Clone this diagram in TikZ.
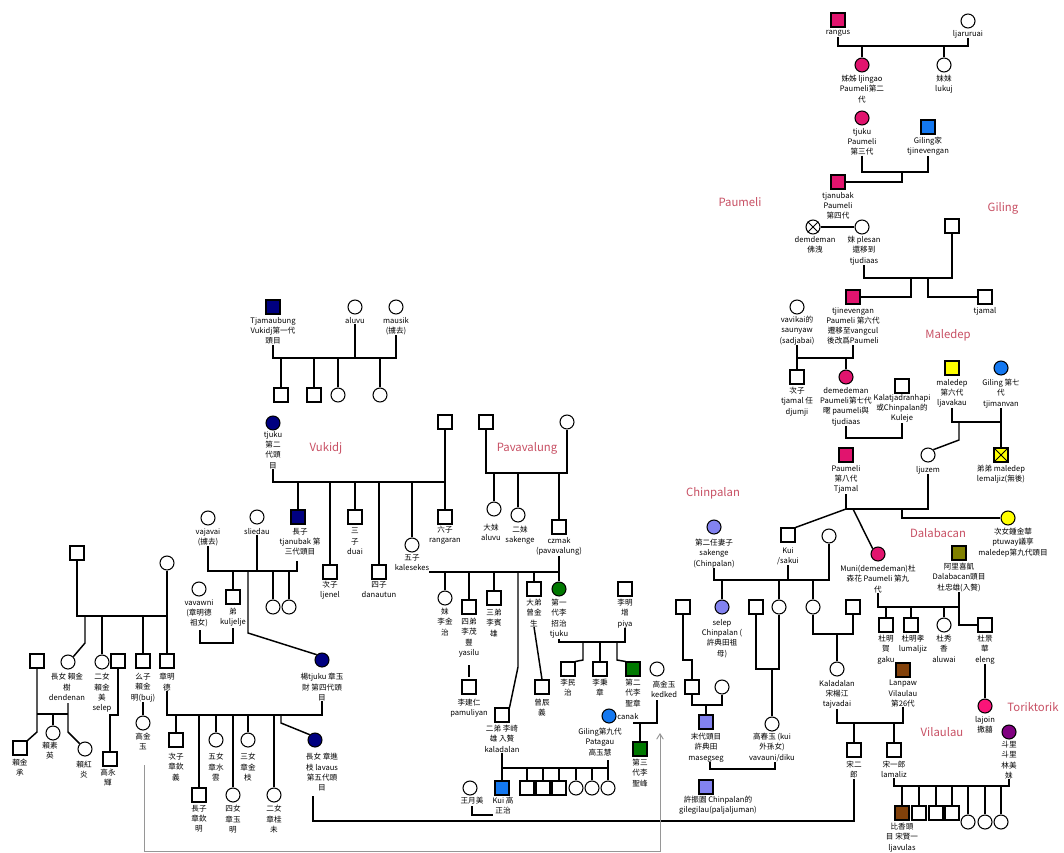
\documentclass[tikz,border=0pt]{standalone}
\usepackage{fontspec}
\setmainfont{Noto Sans CJK TC}
\usetikzlibrary{arrows.meta}
\definecolor{pk}{RGB}{225,20,110}
\definecolor{pk2}{RGB}{250,20,120}
\definecolor{nv}{RGB}{0,0,128}
\definecolor{bl}{RGB}{20,120,240}
\definecolor{lp}{RGB}{130,130,240}
\definecolor{gr}{RGB}{0,120,0}
\definecolor{yl}{RGB}{255,255,0}
\definecolor{ol}{RGB}{128,128,0}
\definecolor{br}{RGB}{130,65,10}
\definecolor{pu}{RGB}{128,0,128}
\definecolor{famred}{RGB}{200,80,100}
\definecolor{arrgray}{RGB}{150,150,150}
\begin{document}
\begin{tikzpicture}[x=0.75pt,y=-0.75pt,
  sym/.style={draw=black,line width=0.8pt,minimum size=10.5pt,inner sep=0pt,fill=white},
  sq/.style={sym,rectangle},
  ci/.style={sym,circle},
  lbl/.style={font=\fontsize{5.7}{7.7}\selectfont,align=center,inner sep=0pt,anchor=north},
  fam/.style={font=\fontsize{8.5}{10}\selectfont,text=famred,inner sep=0pt},
  ln/.style={line width=1.1pt,black},
  garr/.style={line width=0.7pt,arrgray,-{Straight Barb[length=4pt,width=5pt]}}]
\fill[white] (0,0) rectangle (1064,853);
\useasboundingbox (0,0) rectangle (1064,853);
% family labels
\node[fam] (fPaumeli) at (740,202) {Paumeli};
\node[fam] (fGiling) at (1003,208) {Giling};
\node[fam] (fMaledep) at (948,335) {Maledep};
\node[fam] (fChinpalan) at (713,493) {Chinpalan};
\node[fam] (fDalabacan) at (938,533) {Dalabacan};
\node[fam] (fToriktorik) at (1033,707) {Toriktorik};
\node[fam] (fVilaulau) at (942,732) {Vilaulau};
\node[fam] (fVukidj) at (326,448) {Vukidj};
\node[fam] (fPavavalung) at (527,448) {Pavavalung};
% ---------- Paumeli / right side symbols
\node[sq,fill=pk] (rangus) at (838,20) {};
\node[ci] (ljaruruai) at (968,21) {};
\node[ci,fill=pk] (tjingao) at (862,65) {};
\node[ci] (lukuj) at (944,65) {};
\node[ci,fill=pk] (tjuku3) at (862,118) {};
\node[sq,fill=bl] (giling1) at (928,127) {};
\node[sq,fill=pk] (tjanubak4) at (838,182) {};
\node[ci] (demdeman) at (813,227) {};
\draw[line width=0.6pt] (demdeman.north west) -- (demdeman.south east) (demdeman.north east) -- (demdeman.south west);
\node[ci] (plesan) at (862,227) {};
\node[sq] (giling2) at (952,226) {};
\node[sq,fill=pk] (tjinevengan6) at (853,297) {};
\node[sq] (tjamal) at (985,297) {};
\node[ci] (vavikai) at (797,307) {};
\node[sq] (tjamal2) at (797,377) {};
\node[ci,fill=pk] (demedeman7) at (846,377) {};
\node[sq] (kalatja) at (902,386) {};
\node[sq,fill=yl] (maledep6) at (952,368) {};
\node[ci,fill=bl] (giling7) at (1001,368) {};
\node[sq,fill=pk] (paumeli8) at (846,455) {};
\node[ci] (ljuzem) at (928,455) {};
\node[sq,fill=yl] (lemaljiz) at (1001,455) {};
\draw[line width=0.6pt] (lemaljiz.north west) -- (lemaljiz.south east) (lemaljiz.north east) -- (lemaljiz.south west);
\node[ci,fill=yl] (ptuway) at (1008,518) {};
\node[sq] (kui) at (788,535) {};
\node[ci] (kuiwife) at (829,536) {};
\node[ci,fill=pk] (muni) at (878,554) {};
\node[sq,fill=ol] (alixi) at (959,553) {};
\node[ci,fill=lp] (sakenge) at (714,527) {};
\node[ci,fill=lp] (selep2) at (722,607) {};
\node[sq] (sq682) at (683,607) {};
\node[sq] (sq756) at (756,607) {};
\node[ci] (ci779) at (779,607) {};
\node[ci] (ci813) at (813,607) {};
\node[sq] (sq853) at (853,607) {};
\node[sq] (gaku) at (886,625) {};
\node[sq] (lumaljiz) at (911,625) {};
\node[ci] (aluwai) at (944,625) {};
\node[sq] (eleng) at (985,625) {};
\node[sq,fill=br] (lanpaw) at (903,670) {};
\node[ci] (kaladalan2) at (837,669) {};
\node[ci,fill=pk2] (lajoin) at (985,706) {};
\node[ci,fill=pu] (doli) at (1009,732) {};
\node[sq] (songer) at (854,750) {};
\node[sq] (songyi) at (894,750) {};
\node[sq,fill=br] (bixiang) at (902,813) {};
\node[sq] (v919) at (919,813) {};
\node[sq] (v936) at (936,813) {};
\node[sq] (v952) at (952,813) {};
\node[ci] (v968) at (968,822) {};
\node[ci] (v985) at (985,822) {};
\node[ci] (v1001) at (1001,822) {};
\node[sq] (sq692) at (692,687) {};
\node[ci] (ci722) at (722,687) {};
\node[sq,fill=lp] (masegseg) at (706,722) {};
\node[ci] (vavauni) at (772,724) {};
\node[sq,fill=lp] (gilegilau) at (706,787) {};
% ---------- labels right
\node[lbl] (rangusL) at (838,30) {rangus};
\node[lbl] (ljaruruaiL) at (968,30) {ljaruruai};
\node[lbl] (tjingaoL) at (862,75) {姊姊 ljingao\\Paumeli第二\\代};
\node[lbl] (lukujL) at (944,75) {妹妹\\lukuj};
\node[lbl] (tjuku3L) at (862,128) {tjuku\\Paumeli\\第三代};
\node[lbl] (giling1L) at (928,137) {Giling家\\tjinevengan};
\node[lbl] (tjanubak4L) at (838,192) {tjanubak\\Paumeli\\第四代};
\node[lbl] (demdemanL) at (815,236) {demdeman\\佛洩};
\node[lbl] (plesanL) at (864,236) {妹 plesan\\還移到\\tjudiaas};
\node[lbl] (tjinevenganL) at (853,307) {tjinevengan\\Paumeli 第六代\\遷移至vangcul\\後改爲Paumeli};
\node[lbl] (tjamalL) at (985,307) {tjamal};
\node[lbl] (vavikaiL) at (797,316) {vavikai的\\saunyaw\\(sadjabai)};
\node[lbl] (tjamal2L) at (797,387) {次子\\tjamal 任\\djumji};
\node[lbl] (demedeman7L) at (846,387) {demedeman\\Paumeli第七代\\暱 paumeli與\\tjudiaas};
\node[lbl] (kalatjaL) at (902,394) {Kalatjadranhapi\\或Chinpalan的\\Kuleje};
\node[lbl] (maledep6L) at (952,379) {maledep\\第六代\\ljavakau};
\node[lbl] (giling7L) at (1001,379) {Giling 第七\\代\\tjimanvan};
\node[lbl] (paumeli8L) at (846,465) {Paumeli\\第八代\\Tjamal};
\node[lbl] (ljuzemL) at (928,466) {ljuzem};
\node[lbl] (lemaljizL) at (1001,465) {弟弟 maledep\\lemaljiz(無後)};
\node[lbl] (ptuwayL) at (1013,528) {次女鍾金華\\ptuway議享\\maledep第九代頭目};
\node[lbl] (kuiL) at (788,547) {Kui\\/sakui};
\node[lbl] (muniL) at (878,565) {Muni(demedeman)杜\\森花 Paumeli 第九\\代};
\node[lbl] (alixiL) at (959,563) {阿里喜凱\\Dalabacan頭目\\杜忠雄(入贅)};
\node[lbl] (sakengeL) at (714,539) {第二任妻子\\sakenge\\(Chinpalan)};
\node[lbl] (selep2L) at (722,619) {selep\\Chinpalan (\\許典田祖\\母)};
\node[lbl] (gakuL) at (886,635) {杜明\\賀\\gaku};
\node[lbl] (lumaljizL) at (913,635) {杜明孝\\lumaljiz};
\node[lbl] (aluwaiL) at (944,635) {杜秀\\香\\aluwai};
\node[lbl] (elengL) at (985,635) {杜景\\華\\eleng};
\node[lbl] (lanpawL) at (903,680) {Lanpaw\\Vilaulau\\第26代};
\node[lbl] (kaladalan2L) at (837,680) {Kaladalan\\宋楊江\\tajvadai};
\node[lbl] (lajoinL) at (985,716) {lajoin\\撒囍};
\node[lbl] (doliL) at (1009,741) {斗里\\斗里\\林美\\妹};
\node[lbl] (songerL) at (854,761) {宋二\\郎};
\node[lbl] (songyiL) at (894,761) {宋一郎\\lamaliz};
\node[lbl] (bixiangL) at (902,823) {比香頭\\目 宋賢一\\ljavulas};
\node[lbl] (masegsegL) at (706,733) {末代頭目\\許典田\\masegseg};
\node[lbl] (vavauniL) at (772,733) {高春玉 (kui\\外孫女)\\vavauni/diku};
\node[lbl] (gilegilauL) at (718,796) {許振園 Chinpalan的\\gilegilau(paljaljuman)};
% ---------- left / centre symbols
\node[sq,fill=nv] (tjamaubung) at (273,307) {};
\node[ci] (aluvu1) at (355,307) {};
\node[ci] (mausik) at (396,307) {};
\node[sq] (k1) at (281,395) {};
\node[sq] (k2) at (314,395) {};
\node[ci] (k3) at (338,395) {};
\node[ci] (k4) at (380,395) {};
\node[ci,fill=nv] (tjuku2) at (273,423) {};
\node[sq] (husband) at (445,422) {};
\node[sq,fill=nv] (changzi) at (298,517) {};
\node[sq] (cizi) at (330,572) {};
\node[sq] (sanzi) at (355,517) {};
\node[sq] (sizi) at (379,572) {};
\node[ci] (wuzi) at (412,545) {};
\node[sq] (liuzi) at (445,517) {};
\node[sq] (pavm) at (486,422) {};
\node[ci] (pavf) at (567,422) {};
\node[ci] (damei) at (494,509) {};
\node[ci] (ermei) at (518,515) {};
\node[sq] (czmak) at (559,527) {};
\node[ci] (vajavai) at (208,518) {};
\node[ci] (sliedau) at (257,517) {};
\node[sq] (kuljelje) at (233,597) {};
\node[ci] (ci273) at (273,607) {};
\node[ci] (ci289) at (289,607) {};
\node[ci] (vavawni) at (199,589) {};
\node[ci,fill=nv] (zhangyu) at (322,660) {};
\node[sq] (lfA) at (77,553) {};
\node[ci] (lfB) at (167,563) {};
\node[sq] (sq37) at (37,661) {};
\node[ci] (changnv) at (68,662) {};
\node[ci] (ernv) at (102,662) {};
\node[sq] (sq118) at (118,661) {};
\node[sq] (yaozi) at (143,661) {};
\node[sq] (zhangmingde) at (167,661) {};
\node[sq] (laijincheng) at (20,748) {};
\node[ci] (laisuying) at (53,733) {};
\node[ci] (laihongyan) at (85,749) {};
\node[sq] (gaoyonghui) at (110,759) {};
\node[ci] (gaojinyu) at (143,723) {};
\node[sq] (zc1) at (176,740) {};
\node[sq] (zc2) at (199,795) {};
\node[ci] (zc3) at (216,740) {};
\node[ci] (zc4) at (233,795) {};
\node[ci] (zc5) at (248,740) {};
\node[ci] (zc6) at (274,795) {};
\node[ci,fill=nv] (zj) at (315,740) {};
\node[ci] (meili) at (445,598) {};
\node[sq] (sidi) at (469,607) {};
\node[sq] (lijianren) at (469,687) {};
\node[sq] (sandi) at (494,598) {};
\node[sq] (erdi) at (502,715) {};
\node[sq] (dadi) at (534,589) {};
\node[sq] (zengchenyi) at (542,687) {};
\node[ci,fill=gr] (tjukug) at (559,589) {};
\node[sq] (piya) at (625,589) {};
\node[sq] (liminzhi) at (568,669) {};
\node[sq] (libingzhang) at (600,669) {};
\node[sq,fill=gr] (lishengzhang) at (633,669) {};
\node[ci] (kedked) at (657,669) {};
\node[ci,fill=bl] (patagau) at (609,716) {};
\node[sq,fill=gr] (lishengfeng) at (640,749) {};
\node[ci] (wangyuemei) at (470,788) {};
\node[sq,fill=bl] (kuigao) at (502,788) {};
\node[sq] (g527) at (527,788) {};
\node[sq] (g543) at (543,788) {};
\node[sq] (g559) at (559,788) {};
\node[ci] (g576) at (576,788) {};
\node[ci] (g592) at (592,788) {};
\node[ci] (g608) at (608,788) {};
% ---------- labels left / centre
\node[lbl] (tjamaubungL) at (273,317) {Tjamaubung\\Vukidj第一代\\頭目};
\node[lbl] (aluvu1L) at (355,317) {aluvu};
\node[lbl] (mausikL) at (396,317) {mausik\\(擄去)};
\node[lbl] (tjuku2L) at (273,431) {tjuku\\第二\\代頭\\目};
\node[lbl] (changziL) at (300,528) {長子\\tjanubak 第\\三代頭目};
\node[lbl] (ciziL) at (330,581) {次子\\ljenel};
\node[lbl] (sanziL) at (355,528) {三\\子\\duai};
\node[lbl] (siziL) at (379,581) {四子\\danautun};
\node[lbl] (wuziL) at (412,554) {五子\\kalesekes};
\node[lbl] (liuziL) at (445,526) {六子\\rangaran};
\node[lbl] (dameiL) at (491,524) {大妹\\aluvu};
\node[lbl] (ermeiL) at (520,526) {二妹\\sakenge};
\node[lbl] (czmakL) at (559,537) {czmak\\(pavavalung)};
\node[lbl] (vajavaiL) at (208,528) {vajavai\\(擄去)};
\node[lbl] (sliedauL) at (257,528) {sliedau};
\node[lbl] (kuljeljeL) at (233,608) {弟\\kuljelje};
\node[lbl] (vavawniL) at (199,599) {vavawni\\(章明德\\祖女)};
\node[lbl] (zhangyuL) at (322,673) {楊tjuku 章玉\\財 第四代頭\\目};
\node[lbl] (changnvL) at (67,673) {長女 賴金\\樹\\dendenan};
\node[lbl] (ernvL) at (102,673) {二女\\賴金\\美\\selep};
\node[lbl] (yaoziL) at (143,673) {么子\\賴金\\明(buj)};
\node[lbl] (zhangmingdeL) at (167,673) {章明\\德};
\node[lbl] (laijinchengL) at (20,759) {賴金\\承};
\node[lbl] (laisuyingL) at (50,742) {賴素\\英};
\node[lbl] (laihongyanL) at (84,761) {賴紅\\炎};
\node[lbl] (gaoyonghuiL) at (108,769) {高永\\輝};
\node[lbl] (gaojinyuL) at (143,733) {高金\\玉};
\node[lbl] (zc1L) at (176,753) {次子\\章欽\\義};
\node[lbl] (zc2L) at (199,805) {長子\\章欽\\明};
\node[lbl] (zc3L) at (216,753) {五女\\章水\\雲};
\node[lbl] (zc4L) at (233,805) {四女\\章玉\\明};
\node[lbl] (zc5L) at (248,753) {三女\\章金\\枝};
\node[lbl] (zc6L) at (274,805) {二女\\章桂\\未};
\node[lbl] (zjL) at (322,753) {長女 章進\\枝 lavaus\\第五代頭\\目};
\node[lbl] (meiliL) at (445,608) {妹\\李金\\治};
\node[lbl] (sidiL) at (469,618) {四弟\\李茂\\豐\\yasilu};
\node[lbl] (lijianrenL) at (469,699) {李建仁\\pamuliyan};
\node[lbl] (sandiL) at (494,609) {三弟\\李賓\\雄};
\node[lbl] (erdiL) at (502,725) {二弟 李崎\\雄 入贅\\kaladalan};
\node[lbl] (dadiL) at (534,599) {大弟\\曾金\\生};
\node[lbl] (zengchenyiL) at (542,699) {曾辰\\義};
\node[lbl] (tjukugL) at (559,599) {第一\\代李\\招治\\tjuku};
\node[lbl] (piyaL) at (625,599) {李明\\增\\piya};
\node[lbl] (liminzhiL) at (568,679) {李民\\治};
\node[lbl] (libingzhangL) at (600,679) {李秉\\章};
\node[lbl] (lishengzhangL) at (633,679) {第二\\代李\\聖章};
\node[lbl] (kedkedL) at (664,681) {高金玉\\kedked};
\node[lbl] (patagauL) at (600,728) {Giling第九代\\Patagau\\高玉慧};
\node[lbl,anchor=west] (canakL) at (617,717) {canak};
\node[lbl] (lishengfengL) at (640,759) {第三\\代李\\聖峰};
\node[lbl] (wangyuemeiL) at (472,797) {王月美};
\node[lbl] (kuigaoL) at (503,797) {Kui 高\\正治};
% ================= connectors: right
\draw[ln] (rangusL.south) |- (ljaruruaiL.south |- 0,46) -- (ljaruruaiL.south);
\draw[ln] (tjingao.north) -- (tjingao.north |- 0,46);
\draw[ln] (lukuj.north) -- (lukuj.north |- 0,46);
\draw[ln] (tjuku3L.south) |- (giling1L.south |- 0,172) -- (giling1L.south);
\draw[ln] (902,172) |- (tjanubak4.east);
\draw[ln] (demdeman) -- (plesan);
\draw[ln] (plesanL.south) |- (giling2.south |- 0,278) -- (giling2.south);
\draw[ln] (911,278) |- (tjinevengan6.east);
\draw[ln] (928,278) |- (tjamal.west);
\draw[ln] (vavikaiL.south) |- (tjinevenganL.south |- 0,358) -- (tjinevenganL.south);
\draw[ln] (tjamal2.north) -- (tjamal2.north |- 0,358);
\draw[ln] (demedeman7.north) -- (demedeman7.north |- 0,358);
\draw[ln] (demedeman7L.south) |- (kalatjaL.south |- 0,438) -- (kalatjaL.south);
\draw[ln] (maledep6L.south) |- (lemaljiz.north |- 0,422) -- (lemaljiz.north);
\draw[ln] (giling7L.south) -- (giling7L.south |- 0,422);
\draw[ln] (959,422) -- (959,440) -- (ljuzem.north east);
\draw[ln] (ljuzemL.south) |- (paumeli8L.south |- 0,509) -- (paumeli8L.south);
\draw[ln] (902,509) |- (ptuway.west);
\draw[ln] (846,509) -- (kui.north east);
\draw[ln] (853,509) -- (muni.north west);
\draw[ln] (sakengeL.south) |- (kuiwife.south |- 0,580) -- (kuiwife.south);
\draw[ln] (kuiL.south) -- (kuiL.south |- 0,580);
\draw[ln] (selep2.north) -- (selep2.north |- 0,580);
\draw[ln] (ci779.north) -- (ci779.north |- 0,580);
\draw[ln] (ci813.north) -- (ci813.north |- 0,580);
\draw[ln] (sq682.south) |- (sq692.north |- 0,660) -- (sq692.north);
\draw[ln] (sq692.south) |- (ci722.south |- 0,705) -- (ci722.south);
\draw[ln] (masegseg.north) -- (masegseg.north |- 0,705);
\draw[ln] (sq756.south) |- (ci779.south |- 0,669) -- (ci779.south);
\draw[ln] (vavauni.north) -- (vavauni.north |- 0,669);
\draw[ln] (ci813.south) |- (sq853.south |- 0,634) -- (sq853.south);
\draw[ln] (kaladalan2.north) -- (kaladalan2.north |- 0,634);
\draw[ln] (710,762) |- (775,769) -- (775,762);
\draw[ln] (kaladalan2L.south) |- (lanpawL.south |- 0,723) -- (lanpawL.south);
\draw[ln] (songer.north) -- (songer.north |- 0,723);
\draw[ln] (songyi.north) -- (songyi.north |- 0,723);
\draw[ln] (muniL.south) |- (959,607) -- (alixiL.south -| 959,0);
\draw[ln] (gaku.north) -- (gaku.north |- 0,607);
\draw[ln] (lumaljiz.north) -- (lumaljiz.north |- 0,607);
\draw[ln] (aluwai.north) -- (aluwai.north |- 0,607);
\draw[ln] (959,607) |- (eleng.west);
\draw[ln] (elengL.south) -- (lajoin.north);
\draw[ln] (songyiL.south) |- (doliL.south |- 0,786) -- (doliL.south);
\foreach \c in {bixiang,v919,v936,v952,v968,v985,v1001}
  \draw[ln] (\c.north) -- (\c.north |- 0,786);
\draw[ln] (songerL.south) |- (313,821) -- (313,796);
% ================= connectors: left / centre
\draw[ln] (tjamaubungL.south) |- (mausikL.south |- 0,358) -- (mausikL.south);
\draw[ln] (aluvu1L.south) -- (aluvu1L.south |- 0,358);
\foreach \c in {k1,k2,k3,k4}
  \draw[ln] (\c.north) -- (\c.north |- 0,358);
\draw[ln] (tjuku2L.south) |- (husband.south |- 0,482) -- (husband.south);
\foreach \c in {changzi,cizi,sanzi,sizi,wuzi,liuzi}
  \draw[ln] (\c.north) -- (\c.north |- 0,482);
\draw[ln] (pavm.south) |- (pavf.south |- 0,473) -- (pavf.south);
\foreach \c in {damei,ermei,czmak}
  \draw[ln] (\c.north) -- (\c.north |- 0,473);
\draw[ln] (czmakL.south) -- (tjukug.north);
\draw[ln] (429,572) -- (559,572);
\foreach \c in {meili,sidi,sandi,dadi}
  \draw[ln] (\c.north) -- (\c.north |- 0,572);
\draw[ln] (518,572) -- (518,667) -- (erdi.north east);
\draw[ln] (469,665) -- (469,677);
\draw[ln] (dadiL.south) -- (zengchenyi.north);
\draw[ln] (tjukugL.south) |- (piyaL.south |- 0,642) -- (piyaL.south);
\draw[ln] (583,642) -- (583,660) -- (liminzhi.north east);
\draw[ln] (libingzhang.north) -- (libingzhang.north |- 0,642);
\draw[ln] (617,642) -- (617,660) -- (lishengzhang.north west);
\draw[ln] (657,700) |- (633,723);
\draw[ln] (lishengfeng.north) -- (lishengfeng.north |- 0,723);
\draw[ln] (erdiL.south) |- (608,768) -- (608,760);
\foreach \c in {kuigao,g527,g543,g559,g576,g592,g608}
  \draw[ln] (\c.north) -- (\c.north |- 0,768);
\draw[ln] (472,806) |- (493,815);
\draw[ln] (vajavaiL.south) |- (297,571) -- (297,561);
\draw[ln] (sliedauL.south) -- (sliedauL.south |- 0,571);
\foreach \c in {kuljelje,ci273,ci289}
  \draw[ln] (\c.north) -- (\c.north |- 0,571);
\draw[ln] (248,571) -- (248,633) -- (zhangyu.north west);
\draw[ln] (200,630) |- (233,643) -- (233,628);
\draw[ln] (lfA.south) |- (lfB.south |- 0,616) -- (lfB.south);
\draw[ln] (85,616) -- (85,643) -- (changnv.north east);
\foreach \c in {ernv,yaozi,zhangmingde}
  \draw[ln] (\c.north) -- (\c.north |- 0,616);
\draw[ln] (sq37.south) -- (37,732) -- (laijincheng.north east);
\draw[ln] (37,714) -- (68,714);
\draw[ln] (68,703) -- (68,732) -- (laihongyan.north west);
\draw[ln] (laisuying.north) -- (laisuying.north |- 0,714);
\draw[ln] (sq118.south) |- (110,715) -- (gaoyonghui.north);
\draw[ln] (yaoziL.south) -- (gaojinyu.north);
\draw[ln] (zhangmingdeL.south) |- (322,715) -- (zhangyuL.south);
\foreach \c in {zc1,zc2,zc3,zc4,zc5,zc6}
  \draw[ln] (\c.north) -- (\c.north |- 0,715);
\draw[ln] (281,715) -- (281,723) -- (zj.north west);
\draw[garr] (144,765) -- (144,851) -- (660,851) -- (660,733);
\end{tikzpicture}
\end{document}
